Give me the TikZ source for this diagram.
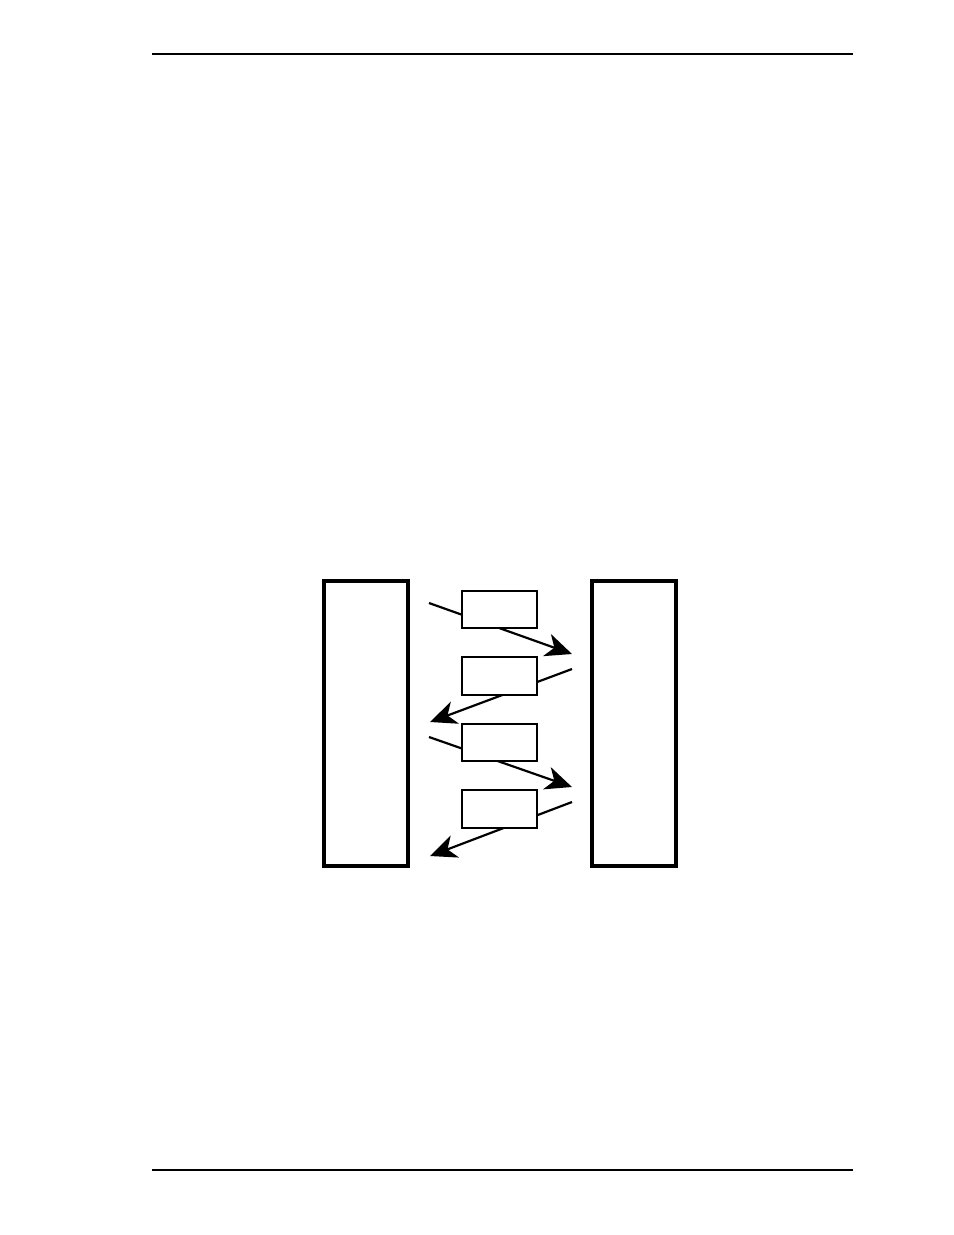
\documentclass[tikz,border=0pt]{standalone}
\usetikzlibrary{arrows.meta}
\begin{document}
\begin{tikzpicture}[x=0.6415pt,y=-0.6415pt,
  bigbox/.style={draw,line width=2.4pt,fill=white},
  smallbox/.style={draw,line width=0.9pt,fill=white},
  flow/.style={line width=1.4pt,-{Stealth[length=17pt,width=15pt,inset=5pt]}},
  rule/.style={line width=0.7pt}]
\useasboundingbox (0,0) rectangle (954,1235);
% page rules
\coordinate (h1) at (152,54); \coordinate (h2) at (853,54);
\coordinate (f1) at (152,1170); \coordinate (f2) at (853,1170);
\draw[rule] (h1) -- (h2);
\draw[line width=1.4pt] (f1) -- (f2);
% arrow end points
\coordinate (a1s) at (429,603); \coordinate (a1e) at (572,654);
\coordinate (a2s) at (572,669); \coordinate (a2e) at (430,722);
\coordinate (a3s) at (429,737); \coordinate (a3e) at (572,787);
\coordinate (a4s) at (572,802); \coordinate (a4e) at (430,856);
\draw[flow] (a1s) -- (a1e);
\draw[flow] (a2s) -- (a2e);
\draw[flow] (a3s) -- (a3e);
\draw[flow] (a4s) -- (a4e);
% big boxes
\node[bigbox,minimum width=84*0.6415pt,minimum height=285*0.6415pt,inner sep=0pt] (left) at (366,723.5) {};
\node[bigbox,minimum width=84*0.6415pt,minimum height=285*0.6415pt,inner sep=0pt] (right) at (634,723.5) {};
% small boxes
\node[smallbox,minimum width=75*0.6415pt,minimum height=37*0.6415pt,inner sep=0pt] (b1) at (499.5,609.5) {};
\node[smallbox,minimum width=75*0.6415pt,minimum height=38*0.6415pt,inner sep=0pt] (b2) at (499.5,676) {};
\node[smallbox,minimum width=75*0.6415pt,minimum height=37*0.6415pt,inner sep=0pt] (b3) at (499.5,742.5) {};
\node[smallbox,minimum width=75*0.6415pt,minimum height=38*0.6415pt,inner sep=0pt] (b4) at (499.5,809) {};
\end{tikzpicture}
\end{document}
